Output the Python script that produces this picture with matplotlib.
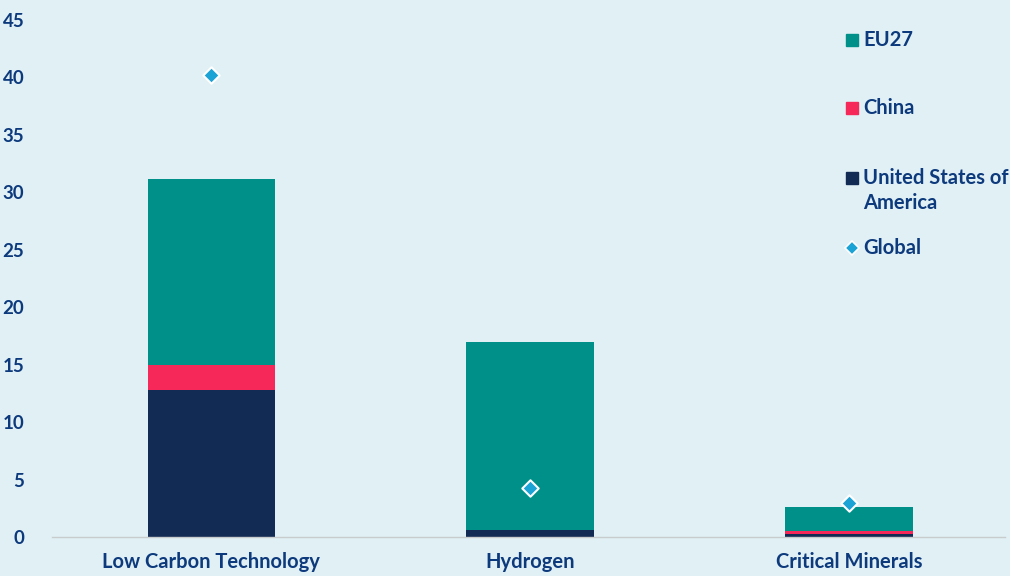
import matplotlib
matplotlib.use('Agg')
import matplotlib.pyplot as plt
import numpy as np

plt.rcParams['font.family'] = ['Lato', 'DejaVu Sans']

categories = ['Low Carbon Technology', 'Hydrogen', 'Critical Minerals']
usa = [12.8, 0.6, 0.25]
china = [2.2, 0.0, 0.25]
eu27 = [16.2, 16.4, 2.15]
glob = [40.2, 4.3, 3.0]

bg = '#e0f0f5'
txt = '#0d3a7c'
c_eu = '#00908a'
c_cn = '#f6285a'
c_us = '#122b54'
c_gl = '#1ba3d6'

fig = plt.figure(figsize=(10.1, 5.76), dpi=100, facecolor=bg)
ax = fig.add_axes([52 / 1010, 39 / 576, 953 / 1010, 517 / 576], facecolor=bg)

x = np.arange(len(categories))
w = 0.4
usa = np.array(usa)
china = np.array(china)
eu27 = np.array(eu27)
ax.bar(x, usa, w, color=c_us, zorder=2)
ax.bar(x, china, w, bottom=usa, color=c_cn, zorder=2)
ax.bar(x, eu27, w, bottom=usa + china, color=c_eu, zorder=2)
ax.scatter(x, glob, marker='D', s=70, color=c_gl, edgecolor='white', linewidth=1.5, zorder=3)

ax.set_xlim(-0.5, 2.49)
ax.set_ylim(0, 45)
ax.set_yticks(np.arange(0, 46, 5))
ax.set_xticks(x)
ax.set_xticklabels(categories)
for s in ['top', 'right', 'left']:
    ax.spines[s].set_visible(False)
ax.spines['bottom'].set_color('#c8cccc')
ax.spines['bottom'].set_linewidth(1)
ax.tick_params(axis='y', length=0, labelsize=13.5, labelcolor=txt, pad=20)
ax.tick_params(axis='x', length=0, labelsize=14.5, labelcolor=txt, pad=11)
for lab in ax.get_xticklabels() + ax.get_yticklabels():
    lab.set_fontweight('bold')

# legend drawn by hand
leg = [('EU27', c_eu, 's', 40), ('China', c_cn, 's', 108),
       ('United States of\nAmerica', c_us, 's', 178), ('Global', c_gl, 'D', 248)]
for name, col, mk, ypix in leg:
    yf = 1 - ypix / 576
    if mk == 's':
        fig.lines.append(plt.Line2D([852 / 1010], [yf], marker='s', markersize=8.5, color=col,
                                    linestyle='none', transform=fig.transFigure))
    else:
        fig.lines.append(plt.Line2D([852 / 1010], [yf], marker='D', markersize=7, color=col,
                                    markeredgecolor='white', markeredgewidth=1.2,
                                    linestyle='none', transform=fig.transFigure))
    fig.text(863 / 1010, yf + 10.5 / 576, name, color=txt, fontsize=14.5, fontweight='bold',
             va='top', ha='left', linespacing=1.35)

fig.savefig('out.png', dpi=100, facecolor=bg)
